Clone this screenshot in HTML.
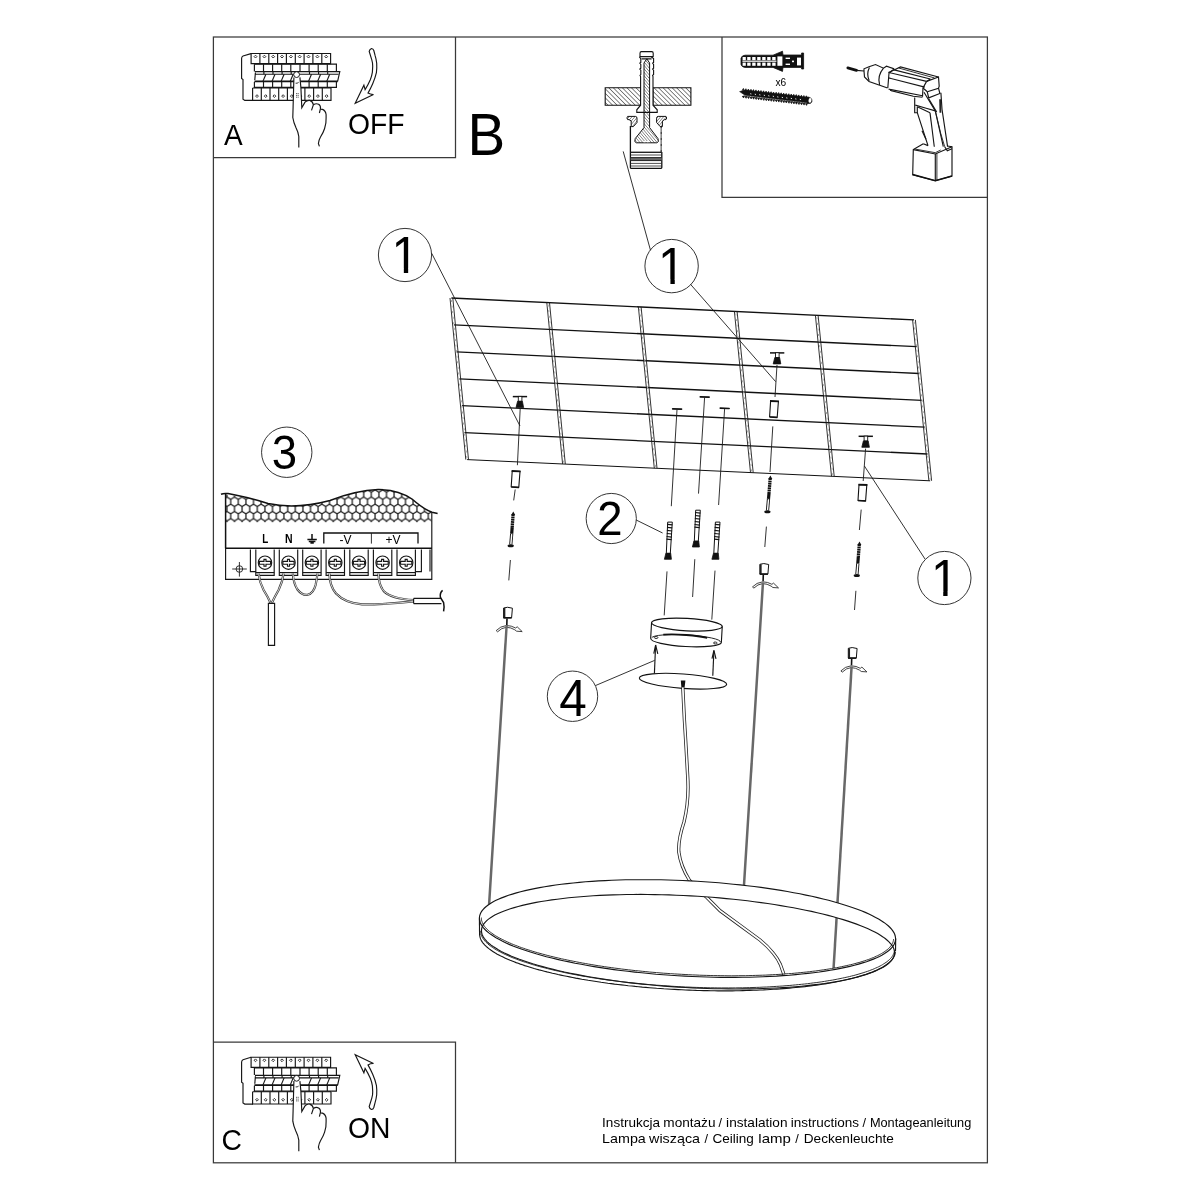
<!DOCTYPE html>
<html lang="pl"><head><meta charset="utf-8"><title>Instrukcja montażu</title>
<style>
html,body{margin:0;padding:0;background:#fff;}
body{width:1200px;height:1200px;overflow:hidden;font-family:"Liberation Sans",sans-serif;}
svg{display:block;position:absolute;left:0;top:0;will-change:transform;filter:grayscale(1);}
svg text{font-family:"Liberation Sans",sans-serif;fill:#000;}
.l{fill:none;stroke:#161616;stroke-width:1.15;}
.t{fill:none;stroke:#1c1c1c;stroke-width:0.9;}
.k{fill:none;stroke:#111;stroke-width:1.5;}
.f{fill:none;stroke:#3a3a3a;stroke-width:1.25;}
</style></head><body>
<svg width="1200" height="1200" viewBox="0 0 1200 1200">
<!-- 01_frame.py -->
<rect class="f" x="213.4" y="37" width="774" height="1125.8"/>
<path class="f" d="M455.5 37V157.7H213.4"/>
<path class="f" d="M722 37V197.4H987.4"/>
<path class="f" d="M213.4 1042H455.5V1162.8"/>
<text transform="translate(224 145.4) scale(1 1.04)" font-size="28">A</text>
<text transform="translate(467.6 154.7) scale(1 1.04)" font-size="56.5">B</text>
<text transform="translate(348 134) scale(1 1.04)" font-size="28.3">OFF</text>
<text transform="translate(221.6 1150.4) scale(1 1.04)" font-size="28.3">C</text>
<text transform="translate(347.9 1137.5) scale(1 1.04)" font-size="28.3">ON</text>
<text transform="translate(775.4 85.9) scale(1 1.04)" font-size="10.2">x6</text>
<text transform="translate(602.1 1127.3) scale(1 1.04)" font-size="12.8" textLength="57.9" lengthAdjust="spacingAndGlyphs">Instrukcja</text>
<text transform="translate(663.3 1127.3) scale(1 1.04)" font-size="12.8" textLength="52.2" lengthAdjust="spacingAndGlyphs">montażu</text>
<text transform="translate(718.6 1127.3) scale(1 1.04)" font-size="12.8">/</text>
<text transform="translate(726.1 1127.3) scale(1 1.04)" font-size="12.8" textLength="61.4" lengthAdjust="spacingAndGlyphs">instalation</text>
<text transform="translate(790.8 1127.3) scale(1 1.04)" font-size="12.8" textLength="68.3" lengthAdjust="spacingAndGlyphs">instructions</text>
<text transform="translate(862.6 1127.3) scale(1 1.04)" font-size="12.8">/</text>
<text transform="translate(869.9 1127.3) scale(1 1.04)" font-size="12.8" textLength="101.4" lengthAdjust="spacingAndGlyphs">Montageanleitung</text>
<text transform="translate(602.1 1143.4) scale(1 1.04)" font-size="12.8" textLength="43.7" lengthAdjust="spacingAndGlyphs">Lampa</text>
<text transform="translate(649.1 1143.4) scale(1 1.04)" font-size="12.8" textLength="50.9" lengthAdjust="spacingAndGlyphs">wisząca</text>
<text transform="translate(704.6 1143.4) scale(1 1.04)" font-size="12.8">/</text>
<text transform="translate(712.4 1143.4) scale(1 1.04)" font-size="12.8" textLength="41.4" lengthAdjust="spacingAndGlyphs">Ceiling</text>
<text transform="translate(758.3 1143.4) scale(1 1.04)" font-size="12.8" textLength="32.5" lengthAdjust="spacingAndGlyphs">lamp</text>
<text transform="translate(795.2 1143.4) scale(1 1.04)" font-size="12.8">/</text>
<text transform="translate(803.8 1143.4) scale(1 1.04)" font-size="12.8" textLength="90" lengthAdjust="spacingAndGlyphs">Deckenleuchte</text>
<!-- 02_circles.py -->
<circle cx="405" cy="255" r="26.6" fill="none" stroke="#2a2a2a" stroke-width="0.95"/>
<text transform="translate(391.51 272.80) scale(1 1.04)" font-size="49">1</text>
<rect x="394.44" y="268.59" width="9.39" height="5.01" fill="#fff"/>
<rect x="408.16" y="268.59" width="9.01" height="5.01" fill="#fff"/>
<circle cx="671.6" cy="266.1" r="26.7" fill="none" stroke="#2a2a2a" stroke-width="0.95"/>
<text transform="translate(658.11 283.80) scale(1 1.04)" font-size="49">1</text>
<rect x="661.04" y="279.59" width="9.39" height="5.01" fill="#fff"/>
<rect x="674.76" y="279.59" width="9.01" height="5.01" fill="#fff"/>
<circle cx="944.4" cy="578" r="26.6" fill="none" stroke="#2a2a2a" stroke-width="0.95"/>
<text transform="translate(930.91 595.80) scale(1 1.04)" font-size="49">1</text>
<rect x="933.84" y="591.59" width="9.39" height="5.01" fill="#fff"/>
<rect x="947.56" y="591.59" width="9.01" height="5.01" fill="#fff"/>
<circle cx="611.25" cy="518.5" r="25.1" fill="none" stroke="#2a2a2a" stroke-width="0.95"/>
<text transform="translate(609.90 535.40) scale(1 1.04)" font-size="45.5" text-anchor="middle">2</text>
<circle cx="286.75" cy="452.25" r="25.2" fill="none" stroke="#2a2a2a" stroke-width="0.95"/>
<text transform="translate(284.40 469.30) scale(1 1.04)" font-size="45.5" text-anchor="middle">3</text>
<circle cx="572.5" cy="696.25" r="25.2" fill="none" stroke="#2a2a2a" stroke-width="0.95"/>
<text transform="translate(573.10 715.50) scale(1 1.04)" font-size="49.5" text-anchor="middle">4</text>
<path class="t" d="M431.7 253.3L520 426"/>
<path class="t" d="M623.2 151.4L650.5 250.3"/>
<path class="t" d="M690.5 284.3L775.7 381.7"/>
<path class="t" d="M864.4 466L925 559"/>
<path class="t" d="M636.2 520L662.6 533"/>
<path class="t" d="M595.4 685.6L654.6 660.4"/>
<!-- 03_grid.py -->
<path d="M451.4 298.0L914.0 319.9" fill="none" stroke="#111" stroke-width="1.35"/>
<path d="M454.0 324.9L916.7 346.7" fill="none" stroke="#111" stroke-width="1.35"/>
<path d="M456.6 351.9L919.4 373.5" fill="none" stroke="#111" stroke-width="1.35"/>
<path d="M459.2 378.8L922.1 400.4" fill="none" stroke="#111" stroke-width="1.35"/>
<path d="M461.9 405.7L924.8 427.2" fill="none" stroke="#111" stroke-width="1.35"/>
<path d="M464.5 432.7L927.5 454.0" fill="none" stroke="#111" stroke-width="1.35"/>
<path d="M467.1 459.6L930.2 480.8" fill="none" stroke="#111" stroke-width="1"/>
<path class="t" d="M450.0 298.0L465.8 459.6"/>
<path class="t" d="M452.8 298.0L468.5 459.6"/>
<path d="M451.4 300.0L467.1 459.6" fill="none" stroke="#a8a8a8" stroke-width="1.1" stroke-dasharray="2 3.6"/>
<path class="t" d="M546.8 302.6L562.6 464.0"/>
<path class="t" d="M549.5 302.6L565.3 464.0"/>
<path d="M548.1 304.6L563.9 464.0" fill="none" stroke="#a8a8a8" stroke-width="1.1" stroke-dasharray="2 3.6"/>
<path class="t" d="M638.4 306.9L654.3 468.2"/>
<path class="t" d="M641.1 306.9L657.0 468.2"/>
<path d="M639.7 308.9L655.6 468.2" fill="none" stroke="#a8a8a8" stroke-width="1.1" stroke-dasharray="2 3.6"/>
<path class="t" d="M734.4 311.5L750.5 472.6"/>
<path class="t" d="M737.1 311.5L753.2 472.6"/>
<path d="M735.8 313.5L751.8 472.6" fill="none" stroke="#a8a8a8" stroke-width="1.1" stroke-dasharray="2 3.6"/>
<path class="t" d="M815.4 315.3L831.5 476.3"/>
<path class="t" d="M818.1 315.3L834.2 476.3"/>
<path d="M816.8 317.3L832.9 476.3" fill="none" stroke="#a8a8a8" stroke-width="1.1" stroke-dasharray="2 3.6"/>
<path class="t" d="M912.6 319.9L928.9 480.8"/>
<path class="t" d="M915.4 319.9L931.6 480.8"/>
<path d="M914.0 321.9L930.2 480.8" fill="none" stroke="#a8a8a8" stroke-width="1.1" stroke-dasharray="2 3.6"/>
<!-- 05_breaker.py -->
<g transform="translate(0 0)">
<path class="l" d="M251 53.6L243 56Q241.6 56.6 241.6 58.5V78.5L243 79.5V99.3L244.8 100.4H253"/>
<path class="l" d="M251.1 53.5H330.6V63.6H251.1Z"/>
<path class="l" d="M259.9 53.5V63.6"/>
<path class="l" d="M268.8 53.5V63.6"/>
<path class="l" d="M277.6 53.5V63.6"/>
<path class="l" d="M286.4 53.5V63.6"/>
<path class="l" d="M295.3 53.5V63.6"/>
<path class="l" d="M304.1 53.5V63.6"/>
<path class="l" d="M312.9 53.5V63.6"/>
<path class="l" d="M321.8 53.5V63.6"/>
<path class="t" d="M255.5 55.2l1.4 1.4l-1.4 1.4l-1.4 -1.4z"/>
<path class="t" d="M264.4 55.2l1.4 1.4l-1.4 1.4l-1.4 -1.4z"/>
<path class="t" d="M273.2 55.2l1.4 1.4l-1.4 1.4l-1.4 -1.4z"/>
<path class="t" d="M282.0 55.2l1.4 1.4l-1.4 1.4l-1.4 -1.4z"/>
<path class="t" d="M290.9 55.2l1.4 1.4l-1.4 1.4l-1.4 -1.4z"/>
<path class="t" d="M299.7 55.2l1.4 1.4l-1.4 1.4l-1.4 -1.4z"/>
<path class="t" d="M308.5 55.2l1.4 1.4l-1.4 1.4l-1.4 -1.4z"/>
<path class="t" d="M317.4 55.2l1.4 1.4l-1.4 1.4l-1.4 -1.4z"/>
<path class="t" d="M326.2 55.2l1.4 1.4l-1.4 1.4l-1.4 -1.4z"/>
<path class="l" d="M254.4 64.2H336.4V71.4"/>
<path class="l" d="M254.4 64.2V71.4"/>
<path class="l" d="M263.5 64.2V71.4"/>
<path class="l" d="M272.6 64.2V71.4"/>
<path class="l" d="M281.7 64.2V71.4"/>
<path class="l" d="M290.8 64.2V71.4"/>
<path class="l" d="M300.0 64.2V71.4"/>
<path class="l" d="M309.1 64.2V71.4"/>
<path class="l" d="M318.2 64.2V71.4"/>
<path class="l" d="M327.3 64.2V71.4"/>
<path class="l" d="M255 71.6H339.8L337.6 81.4"/>
<path class="l" d="M255 74.2H338.6" stroke-width="1.2"/>
<path d="M254.4 81.4H337.8" fill="none" stroke="#111" stroke-width="1.6"/>
<path class="l" d="M255.4 72.5L254.8 80"/>
<path class="l" d="M265.9 74.2L262.9 81.4" stroke-width="1.3"/>
<path class="l" d="M263.9 71.6V74.2"/>
<path class="l" d="M275.0 74.2L272.0 81.4" stroke-width="1.3"/>
<path class="l" d="M273.0 71.6V74.2"/>
<path class="l" d="M284.1 74.2L281.1 81.4" stroke-width="1.3"/>
<path class="l" d="M282.1 71.6V74.2"/>
<path class="l" d="M293.2 74.2L290.2 81.4" stroke-width="1.3"/>
<path class="l" d="M291.2 71.6V74.2"/>
<path class="l" d="M311.5 74.2L308.5 81.4" stroke-width="1.3"/>
<path class="l" d="M309.5 71.6V74.2"/>
<path class="l" d="M320.6 74.2L317.6 81.4" stroke-width="1.3"/>
<path class="l" d="M318.6 71.6V74.2"/>
<path class="l" d="M329.7 74.2L326.7 81.4" stroke-width="1.3"/>
<path class="l" d="M327.7 71.6V74.2"/>
<path class="l" d="M254.4 82V87.4H336.4V82"/>
<path class="l" d="M263.5 82V87.4"/>
<path class="l" d="M272.6 82V87.4"/>
<path class="l" d="M281.7 82V87.4"/>
<path class="l" d="M290.8 82V87.4"/>
<path class="l" d="M300.0 82V87.4"/>
<path class="l" d="M309.1 82V87.4"/>
<path class="l" d="M318.2 82V87.4"/>
<path class="l" d="M327.3 82V87.4"/>
<path class="l" d="M252.6 88V100.3H331V88"/>
<path class="l" d="M252.6 88H331"/>
<path class="l" d="M261.3 88V100.3"/>
<path class="l" d="M270.0 88V100.3"/>
<path class="l" d="M278.7 88V100.3"/>
<path class="l" d="M287.4 88V100.3"/>
<path class="l" d="M296.2 88V100.3"/>
<path class="l" d="M304.9 88V100.3"/>
<path class="l" d="M313.6 88V100.3"/>
<path class="l" d="M322.3 88V100.3"/>
<path class="t" d="M257.0 94.7l1.4 1.4l-1.4 1.4l-1.4 -1.4z"/>
<path class="t" d="M265.7 94.7l1.4 1.4l-1.4 1.4l-1.4 -1.4z"/>
<path class="t" d="M274.4 94.7l1.4 1.4l-1.4 1.4l-1.4 -1.4z"/>
<path class="t" d="M283.1 94.7l1.4 1.4l-1.4 1.4l-1.4 -1.4z"/>
<path class="t" d="M291.8 94.7l1.4 1.4l-1.4 1.4l-1.4 -1.4z"/>
<path class="t" d="M300.5 94.7l1.4 1.4l-1.4 1.4l-1.4 -1.4z"/>
<path class="t" d="M309.2 94.7l1.4 1.4l-1.4 1.4l-1.4 -1.4z"/>
<path class="t" d="M317.9 94.7l1.4 1.4l-1.4 1.4l-1.4 -1.4z"/>
<path class="t" d="M326.6 94.7l1.4 1.4l-1.4 1.4l-1.4 -1.4z"/>
<path d="M293.9 77.4L293.1 107L292.8 117.5Q293.6 122.5 295.8 127.3Q298.2 132 298.8 136.5L298.8 147.5H319.4L318.4 143.5Q319 139.5 320.5 137Q323.4 132.5 324.6 128.5Q326.4 122.8 326.1 118V114.5Q325.5 110.5 322.5 109.4L320.5 109.3Q320.8 105.5 318.6 104.2Q316 103 313.4 104.8Q312.8 101.5 309.8 100.4Q307 100 305 102.2L301.8 107.8L300.9 87.5L299.9 77.4Z" fill="#fff" stroke="none"/>
<path class="l" d="M293.9 77.4L293.1 107L292.8 117.5Q293.6 122.5 295.8 127.3Q298.2 132 298.8 136.5L298.8 147.5"/>
<path class="l" d="M299.9 77.4L300.9 87.5L301.8 107.8L305 102.2Q307 100 309.8 100.4Q312.8 101.5 313.4 104.8L311.5 110.4"/>
<path class="l" d="M313.4 104.8Q316 103 318.6 104.2Q320.8 105.5 320.5 108.5L319.4 113"/>
<path class="l" d="M320.5 109.3L322.5 109.4Q325.5 110.5 326.1 114.5V118Q326.4 122.8 324.6 128.5Q323.4 132.5 320.5 137Q319 139.5 318.4 143.5L319.4 146.4"/>
<circle cx="296.6" cy="74.6" r="2.9" fill="#fff" stroke="#1a1a1a" stroke-width="1"/>
<path class="t" d="M295.6 83.2Q297.2 83.6 298.6 82.4"/>
<path class="t" d="M296.2 93.6h2.4M296.2 95.4h2.4M296.2 97.2h2.4" stroke-dasharray="1 0.6"/>
</g>
<g transform="translate(0 1003.7)">
<path class="l" d="M251 53.6L243 56Q241.6 56.6 241.6 58.5V78.5L243 79.5V99.3L244.8 100.4H253"/>
<path class="l" d="M251.1 53.5H330.6V63.6H251.1Z"/>
<path class="l" d="M259.9 53.5V63.6"/>
<path class="l" d="M268.8 53.5V63.6"/>
<path class="l" d="M277.6 53.5V63.6"/>
<path class="l" d="M286.4 53.5V63.6"/>
<path class="l" d="M295.3 53.5V63.6"/>
<path class="l" d="M304.1 53.5V63.6"/>
<path class="l" d="M312.9 53.5V63.6"/>
<path class="l" d="M321.8 53.5V63.6"/>
<path class="t" d="M255.5 55.2l1.4 1.4l-1.4 1.4l-1.4 -1.4z"/>
<path class="t" d="M264.4 55.2l1.4 1.4l-1.4 1.4l-1.4 -1.4z"/>
<path class="t" d="M273.2 55.2l1.4 1.4l-1.4 1.4l-1.4 -1.4z"/>
<path class="t" d="M282.0 55.2l1.4 1.4l-1.4 1.4l-1.4 -1.4z"/>
<path class="t" d="M290.9 55.2l1.4 1.4l-1.4 1.4l-1.4 -1.4z"/>
<path class="t" d="M299.7 55.2l1.4 1.4l-1.4 1.4l-1.4 -1.4z"/>
<path class="t" d="M308.5 55.2l1.4 1.4l-1.4 1.4l-1.4 -1.4z"/>
<path class="t" d="M317.4 55.2l1.4 1.4l-1.4 1.4l-1.4 -1.4z"/>
<path class="t" d="M326.2 55.2l1.4 1.4l-1.4 1.4l-1.4 -1.4z"/>
<path class="l" d="M254.4 64.2H336.4V71.4"/>
<path class="l" d="M254.4 64.2V71.4"/>
<path class="l" d="M263.5 64.2V71.4"/>
<path class="l" d="M272.6 64.2V71.4"/>
<path class="l" d="M281.7 64.2V71.4"/>
<path class="l" d="M290.8 64.2V71.4"/>
<path class="l" d="M300.0 64.2V71.4"/>
<path class="l" d="M309.1 64.2V71.4"/>
<path class="l" d="M318.2 64.2V71.4"/>
<path class="l" d="M327.3 64.2V71.4"/>
<path class="l" d="M255 71.6H339.8L337.6 81.4"/>
<path class="l" d="M255 74.2H338.6" stroke-width="1.2"/>
<path d="M254.4 81.4H337.8" fill="none" stroke="#111" stroke-width="1.6"/>
<path class="l" d="M255.4 72.5L254.8 80"/>
<path class="l" d="M265.9 74.2L262.9 81.4" stroke-width="1.3"/>
<path class="l" d="M263.9 71.6V74.2"/>
<path class="l" d="M275.0 74.2L272.0 81.4" stroke-width="1.3"/>
<path class="l" d="M273.0 71.6V74.2"/>
<path class="l" d="M284.1 74.2L281.1 81.4" stroke-width="1.3"/>
<path class="l" d="M282.1 71.6V74.2"/>
<path class="l" d="M293.2 74.2L290.2 81.4" stroke-width="1.3"/>
<path class="l" d="M291.2 71.6V74.2"/>
<path class="l" d="M311.5 74.2L308.5 81.4" stroke-width="1.3"/>
<path class="l" d="M309.5 71.6V74.2"/>
<path class="l" d="M320.6 74.2L317.6 81.4" stroke-width="1.3"/>
<path class="l" d="M318.6 71.6V74.2"/>
<path class="l" d="M329.7 74.2L326.7 81.4" stroke-width="1.3"/>
<path class="l" d="M327.7 71.6V74.2"/>
<path class="l" d="M254.4 82V87.4H336.4V82"/>
<path class="l" d="M263.5 82V87.4"/>
<path class="l" d="M272.6 82V87.4"/>
<path class="l" d="M281.7 82V87.4"/>
<path class="l" d="M290.8 82V87.4"/>
<path class="l" d="M300.0 82V87.4"/>
<path class="l" d="M309.1 82V87.4"/>
<path class="l" d="M318.2 82V87.4"/>
<path class="l" d="M327.3 82V87.4"/>
<path class="l" d="M252.6 88V100.3H331V88"/>
<path class="l" d="M252.6 88H331"/>
<path class="l" d="M261.3 88V100.3"/>
<path class="l" d="M270.0 88V100.3"/>
<path class="l" d="M278.7 88V100.3"/>
<path class="l" d="M287.4 88V100.3"/>
<path class="l" d="M296.2 88V100.3"/>
<path class="l" d="M304.9 88V100.3"/>
<path class="l" d="M313.6 88V100.3"/>
<path class="l" d="M322.3 88V100.3"/>
<path class="t" d="M257.0 94.7l1.4 1.4l-1.4 1.4l-1.4 -1.4z"/>
<path class="t" d="M265.7 94.7l1.4 1.4l-1.4 1.4l-1.4 -1.4z"/>
<path class="t" d="M274.4 94.7l1.4 1.4l-1.4 1.4l-1.4 -1.4z"/>
<path class="t" d="M283.1 94.7l1.4 1.4l-1.4 1.4l-1.4 -1.4z"/>
<path class="t" d="M291.8 94.7l1.4 1.4l-1.4 1.4l-1.4 -1.4z"/>
<path class="t" d="M300.5 94.7l1.4 1.4l-1.4 1.4l-1.4 -1.4z"/>
<path class="t" d="M309.2 94.7l1.4 1.4l-1.4 1.4l-1.4 -1.4z"/>
<path class="t" d="M317.9 94.7l1.4 1.4l-1.4 1.4l-1.4 -1.4z"/>
<path class="t" d="M326.6 94.7l1.4 1.4l-1.4 1.4l-1.4 -1.4z"/>
<path d="M293.9 77.4L293.1 107L292.8 117.5Q293.6 122.5 295.8 127.3Q298.2 132 298.8 136.5L298.8 147.5H319.4L318.4 143.5Q319 139.5 320.5 137Q323.4 132.5 324.6 128.5Q326.4 122.8 326.1 118V114.5Q325.5 110.5 322.5 109.4L320.5 109.3Q320.8 105.5 318.6 104.2Q316 103 313.4 104.8Q312.8 101.5 309.8 100.4Q307 100 305 102.2L301.8 107.8L300.9 87.5L299.9 77.4Z" fill="#fff" stroke="none"/>
<path class="l" d="M293.9 77.4L293.1 107L292.8 117.5Q293.6 122.5 295.8 127.3Q298.2 132 298.8 136.5L298.8 147.5"/>
<path class="l" d="M299.9 77.4L300.9 87.5L301.8 107.8L305 102.2Q307 100 309.8 100.4Q312.8 101.5 313.4 104.8L311.5 110.4"/>
<path class="l" d="M313.4 104.8Q316 103 318.6 104.2Q320.8 105.5 320.5 108.5L319.4 113"/>
<path class="l" d="M320.5 109.3L322.5 109.4Q325.5 110.5 326.1 114.5V118Q326.4 122.8 324.6 128.5Q323.4 132.5 320.5 137Q319 139.5 318.4 143.5L319.4 146.4"/>
<circle cx="296.6" cy="74.6" r="2.9" fill="#fff" stroke="#1a1a1a" stroke-width="1"/>
<path class="t" d="M295.6 83.2Q297.2 83.6 298.6 82.4"/>
<path class="t" d="M296.2 93.6h2.4M296.2 95.4h2.4M296.2 97.2h2.4" stroke-dasharray="1 0.6"/>
</g>
<path class="l" d="M371.5 48.5Q369.6 49.2 369.2 51.4L371.8 59.8Q372.8 63 372.7 66.2L372.4 72.1Q371.8 76 370.3 79.7Q368 85 365.1 89.6L363.9 85.2L355.2 103.3L373.5 94.5Q370.5 94.6 368 93.1Q370.6 88.5 372.7 83.7Q375.2 78 376.4 72.7Q377 68 376.7 63.3Q376.2 59 375 55.2L373.8 50.5Q373.2 48.6 371.5 48.5Z"/>
<g transform="translate(0 1158) scale(1 -1)"><path class="l" d="M371.5 48.5Q369.6 49.2 369.2 51.4L371.8 59.8Q372.8 63 372.7 66.2L372.4 72.1Q371.8 76 370.3 79.7Q368 85 365.1 89.6L363.9 85.2L355.2 103.3L373.5 94.5Q370.5 94.6 368 93.1Q370.6 88.5 372.7 83.7Q375.2 78 376.4 72.7Q377 68 376.7 63.3Q376.2 59 375 55.2L373.8 50.5Q373.2 48.6 371.5 48.5Z"/></g>
<!-- 06_anchor.py -->
<defs><pattern id="h1" width="3.2" height="3.2" patternUnits="userSpaceOnUse" patternTransform="rotate(-45)"><line x1="0" y1="0" x2="0" y2="3.2" stroke="#111" stroke-width="1"/></pattern>
<pattern id="h2" width="2.2" height="2.2" patternUnits="userSpaceOnUse" patternTransform="rotate(-40)"><line x1="0" y1="0" x2="0" y2="2.2" stroke="#111" stroke-width="0.8"/></pattern><pattern id="h3" width="2.2" height="2.2" patternUnits="userSpaceOnUse" patternTransform="rotate(40)"><line x1="0" y1="0" x2="0" y2="2.2" stroke="#111" stroke-width="0.8"/></pattern></defs>
<path d="M605.2 87.7H640.6V105.2H605.2Z" fill="url(#h1)" stroke="#111" stroke-width="1.1"/>
<path d="M653 87.7H690.9V105.2H653Z" fill="url(#h1)" stroke="#111" stroke-width="1.1"/>
<path d="M640 53.2Q640 51.6 641.4 51.6H651.8Q653.2 51.6 653.2 53.2V56.4L651.8 57.2L653.6 58.6V62.4L652.6 63.2L653.6 64.4V68.2L652.6 69L653.6 70.2V74.5L652.6 75.4L653 76.6V105.2L657.2 109.8V112.4H636.8V109.8L640.6 105.2V76.6L640 75.4L640.8 74.5V70.2L639.8 69L640.8 68.2V64.4L639.8 63.2L640.8 62.4V58.6L639.6 57.2L640 56.4Z" fill="#fff" stroke="#111" stroke-width="1.1"/>
<path class="l" d="M640 56.6H653M641.6 58.8H651.6"/>
<path d="M646.8 58.8L644 63V127.6L635.2 138.6L634.8 141.6L636.4 142.8H656.8L658.4 141.6L658 138.6L649.6 127.6V63Z" fill="url(#h2)" stroke="#111" stroke-width="1"/>
<path d="M643.6 141.6h2.2M647 141.6h2.2" stroke="#fff" stroke-width="1.4"/>
<path d="M627.6 116.4H635.4Q637 116.4 637 118.2V122.5L633.4 126.6H631.2V121L629 119.6H627.6Q626.2 118 627.6 116.4Z" fill="url(#h3)" stroke="#111" stroke-width="1"/>
<path d="M666 116.4H658.2Q656.6 116.4 656.6 118.2V122.5L660.2 126.6H662.4V121L664.6 119.6H666Q667.4 118 666 116.4Z" fill="url(#h3)" stroke="#111" stroke-width="1"/>
<path d="M630.4 126V167.4Q630.4 168.4 631.6 168.4H660.6Q661.8 168.4 661.8 167.4V152" fill="none" stroke="#111" stroke-width="1.3"/>
<path d="M661.2 126V152" fill="none" stroke="#111" stroke-width="1.6" stroke-dasharray="0.7 0.5"/>
<rect x="630.6" y="157.6" width="31" height="3" fill="#666"/>
<path d="M630.6 152.3H661.6" fill="none" stroke="#222" stroke-width="1.4"/>
<path d="M630.6 155H661.6" fill="none" stroke="#222" stroke-width="0.8"/>
<path d="M630.6 157.6H661.6" fill="none" stroke="#222" stroke-width="1"/>
<path d="M630.6 160.6H661.6" fill="none" stroke="#222" stroke-width="1"/>
<path d="M630.6 163.4H661.6" fill="none" stroke="#222" stroke-width="0.8"/>
<path d="M630.6 166H661.6" fill="none" stroke="#222" stroke-width="0.8"/>
<!-- 07_tools.py -->
<path d="M741 58.2Q741.6 55.6 745 55.2H773L782.5 51.2L783 55H801.6V53H803.6V69H801.6V67.4H783L782.5 71.4L773 67.4H745Q741.6 67 741 64.4Z" fill="#111" stroke="#111" stroke-width="0.8"/>
<rect x="742.6" y="57" width="3.2" height="3.2" fill="#fff"/>
<rect x="742.6" y="62.6" width="3.2" height="3.2" fill="#fff"/>
<rect x="747.2" y="57" width="3.4" height="3.2" fill="#fff"/>
<rect x="747.2" y="62.6" width="3.4" height="3.2" fill="#fff"/>
<rect x="752.2" y="57" width="3.4" height="3.2" fill="#fff"/>
<rect x="752.2" y="62.6" width="3.4" height="3.2" fill="#fff"/>
<rect x="757.2" y="57" width="3.4" height="3.2" fill="#fff"/>
<rect x="757.2" y="62.6" width="3.4" height="3.2" fill="#fff"/>
<rect x="762.2" y="57" width="3.4" height="3.2" fill="#fff"/>
<rect x="762.2" y="62.6" width="3.4" height="3.2" fill="#fff"/>
<rect x="767.2" y="57" width="3.4" height="3.2" fill="#fff"/>
<rect x="767.2" y="62.6" width="3.4" height="3.2" fill="#fff"/>
<rect x="772.2" y="57" width="3.4" height="3.2" fill="#fff"/>
<rect x="772.2" y="62.6" width="3.4" height="3.2" fill="#fff"/>
<rect x="742.4" y="60.6" width="34" height="1.2" fill="#fff"/>
<rect x="777.4" y="56.4" width="5" height="9.4" fill="#fff"/>
<rect x="797" y="57.6" width="4" height="7.8" fill="#fff"/>
<rect x="785.6" y="57.6" width="4.4" height="1.4" fill="#fff"/>
<rect x="785.6" y="63.6" width="4.4" height="1.4" fill="#fff"/>
<rect x="792" y="60.6" width="2" height="1.6" fill="#fff"/>
<path d="M739.6 91.6L745 90.2L806 97.2L808.4 97Q812.4 98 812 101.4Q811.4 104 808 103.6L806 102.6L745 95.2Z" fill="#111" stroke="#111" stroke-width="0.6"/>
<ellipse cx="810" cy="100.4" rx="1.5" ry="2.4" fill="#fff" transform="rotate(8 810 100.4)"/>
<path d="M742.0 90.6l1.4 -2.2l1 2.4M744.6 95.6l-1 2.4l-1.4 -2M744.5 90.9l1.4 -2.2l1 2.4M747.1 95.9l-1 2.4l-1.4 -2M747.0 91.2l1.4 -2.2l1 2.4M749.6 96.2l-1 2.4l-1.4 -2M749.6 91.5l1.4 -2.2l1 2.4M752.2 96.5l-1 2.4l-1.4 -2M752.1 91.8l1.4 -2.2l1 2.4M754.7 96.8l-1 2.4l-1.4 -2M754.6 92.1l1.4 -2.2l1 2.4M757.2 97.1l-1 2.4l-1.4 -2M757.1 92.4l1.4 -2.2l1 2.4M759.7 97.4l-1 2.4l-1.4 -2M759.6 92.7l1.4 -2.2l1 2.4M762.2 97.7l-1 2.4l-1.4 -2M762.2 93.0l1.4 -2.2l1 2.4M764.8 98.0l-1 2.4l-1.4 -2M764.7 93.3l1.4 -2.2l1 2.4M767.3 98.3l-1 2.4l-1.4 -2M767.2 93.6l1.4 -2.2l1 2.4M769.8 98.6l-1 2.4l-1.4 -2M769.7 93.9l1.4 -2.2l1 2.4M772.3 98.9l-1 2.4l-1.4 -2M772.2 94.2l1.4 -2.2l1 2.4M774.8 99.2l-1 2.4l-1.4 -2M774.8 94.4l1.4 -2.2l1 2.4M777.4 99.4l-1 2.4l-1.4 -2M777.3 94.7l1.4 -2.2l1 2.4M779.9 99.7l-1 2.4l-1.4 -2M779.8 95.0l1.4 -2.2l1 2.4M782.4 100.0l-1 2.4l-1.4 -2M782.3 95.3l1.4 -2.2l1 2.4M784.9 100.3l-1 2.4l-1.4 -2M784.8 95.6l1.4 -2.2l1 2.4M787.4 100.6l-1 2.4l-1.4 -2M787.4 95.9l1.4 -2.2l1 2.4M790.0 100.9l-1 2.4l-1.4 -2M789.9 96.2l1.4 -2.2l1 2.4M792.5 101.2l-1 2.4l-1.4 -2M792.4 96.5l1.4 -2.2l1 2.4M795.0 101.5l-1 2.4l-1.4 -2M794.9 96.8l1.4 -2.2l1 2.4M797.5 101.8l-1 2.4l-1.4 -2M797.4 97.1l1.4 -2.2l1 2.4M800.0 102.1l-1 2.4l-1.4 -2M800.0 97.4l1.4 -2.2l1 2.4M802.6 102.4l-1 2.4l-1.4 -2M802.5 97.7l1.4 -2.2l1 2.4M805.1 102.7l-1 2.4l-1.4 -2M805.0 98.0l1.4 -2.2l1 2.4M807.6 103.0l-1 2.4l-1.4 -2" fill="#111" stroke="#111" stroke-width="0.7"/>
<path d="M750.2 93.7l1.2 0.3M754.8 94.2l1.2 0.3M759.2 94.7l1.2 0.3M763.8 95.2l1.2 0.3M768.2 95.7l1.2 0.3M772.8 96.2l1.2 0.3M777.2 96.8l1.2 0.3M781.8 97.3l1.2 0.3M786.2 97.8l1.2 0.3M790.8 98.3l1.2 0.3M795.2 98.8l1.2 0.3M799.8 99.3l1.2 0.3" stroke="#fff" stroke-width="0.9" fill="none"/>
<!-- 08_drill.py -->
<path d="M847.8 67.9L856.5 70.4" stroke="#111" stroke-width="2.7" stroke-linecap="round" fill="none"/>
<path class="l" d="M856.5 70.4L864.0 71.0"/>
<path class="l" d="M864.0 71.0L864.0 68.8L869.0 66.8L875.5 64.5L883.5 68.2L886.5 66.2L894.2 68.9"/>
<path class="l" d="M864.0 71.0L864.5 77.0L869.0 81.5L879.0 85.0L887.5 88.0"/>
<path class="l" d="M869.4 67.6Q866.2 74.0 869.2 80.8"/>
<path class="l" d="M883.5 68.2Q877.0 76.0 879.6 84.8"/>
<path class="l" d="M894.2 68.9L889.0 73.0L887.8 88.0"/>
<path class="l" d="M888.6 72.4L894.1 69.9L900.5 66.9L938.5 77.0"/>
<path class="l" d="M888.6 72.4L926.6 81.4"/>
<path class="l" d="M894.1 69.9L930.3 79.0"/>
<path class="t" d="M898.7 68.0L934.4 77.9"/>
<path class="l" d="M888.6 77.9L924.8 87.1"/>
<path class="l" d="M888.6 89.1L922.5 95.8"/>
<path class="l" d="M890.0 90.3L913.3 96.2L922.5 97.3"/>
<path class="l" d="M926.6 81.4L938.5 77.0L939.2 86.2L938.5 88.2L927.3 91.8"/>
<path class="l" d="M926.6 81.4L923.0 88.0L922.5 96.7"/>
<path class="l" d="M923.0 88.0L927.3 91.8"/>
<path class="l" d="M927.3 91.8L928.7 97.9L939.9 93.5L938.5 88.2"/>
<path class="l" d="M926.6 81.4L930.3 79.0"/>
<path class="l" d="M914.7 97.6L914.7 112.7L917.3 112.7"/>
<path class="l" d="M915.3 105.1L925.3 108.0L935.3 110.9"/>
<path class="l" d="M917.3 106.7L917.3 112.7L928.0 145.6"/>
<path class="l" d="M917.3 106.7L930.0 112.7"/>
<path class="l" d="M922.0 130.7L926.0 139.3"/>
<path class="l" d="M930.0 112.7L934.3 146.7"/>
<path class="l" d="M924.0 92.3L935.3 110.9L943.3 146.7"/>
<path class="l" d="M928.7 98.7L936.7 112.0"/>
<path class="l" d="M940.9 92.7L942.0 109.3L947.6 146.7"/>
<path class="t" d="M935.3 110.9L940.7 133.3L944.7 146.7"/>
<path d="M940.1 99.3L940.4 112.7" stroke="#222" stroke-width="1.8" fill="none"/>
<path class="l" d="M923.3 143.7L913.3 149.6L912.7 174.7L935.3 180.7L952.0 176.0L952.0 146.7L947.3 146.0"/>
<path class="l" d="M913.3 149.6L935.3 154.0L952.0 146.7"/>
<path class="l" d="M935.3 154.0L935.3 180.7"/>
<path class="t" d="M936.9 153.3L936.9 180.0"/>
<path class="t" d="M915.3 149.1L935.3 152.7L940.7 150.0"/>
<path class="l" d="M923.3 143.7L928.0 145.6"/>
<path class="l" d="M944.7 146.7L947.3 150.7L952.0 148.7"/>
<path d="M912.7 174.4L935.3 180.7L952.0 176.0" stroke="#111" stroke-width="1.6" fill="none"/>
<!-- 09_psu.py -->
<defs><pattern id="hx" width="7.6" height="14.4" patternUnits="userSpaceOnUse" x="226.9" y="494.6"><path d="M3.80 -4.80L7.60 -2.40L7.60 2.40L3.80 4.80L0.00 2.40L0.00 -2.40ZM0.00 2.40L3.80 4.80L3.80 9.60L0.00 12.00L-3.80 9.60L-3.80 4.80ZM7.60 2.40L11.40 4.80L11.40 9.60L7.60 12.00L3.80 9.60L3.80 4.80ZM3.80 9.60L7.60 12.00L7.60 16.80L3.80 19.20L0.00 16.80L0.00 12.00Z" fill="none" stroke="#111" stroke-width="1.2" stroke-linejoin="round"/></pattern><clipPath id="hxc"><path d="M226 494.6Q247 497 268 503.5Q296 509.6 330 500.5Q356 490.5 378 489.6Q398 489.4 412 499Q424 509.5 431.4 512.2V522.4H226Z"/></clipPath></defs>
<rect x="226" y="486" width="206" height="36.4" fill="url(#hx)" clip-path="url(#hxc)"/>
<path d="M221 494.2Q224 493 228 493.6Q247 497 268 503.5Q296 509.6 330 500.5Q356 490.5 378 489.6Q398 489.4 412 499Q424 509.5 432 512.2L437.6 513.4" fill="none" stroke="#111" stroke-width="1.5"/>
<path d="M225.6 494V548.3" fill="none" stroke="#111" stroke-width="1.5"/>
<path d="M225 548.3H432" fill="none" stroke="#111" stroke-width="1.6"/>
<path class="l" d="M431.8 512.4V579.3H225.6V548.3"/>
<text x="265.3" y="543.4" font-size="12" font-weight="bold" text-anchor="middle" textLength="6" lengthAdjust="spacingAndGlyphs">L</text>
<text x="288.9" y="543.4" font-size="12" font-weight="bold" text-anchor="middle" textLength="7.6" lengthAdjust="spacingAndGlyphs">N</text>
<text x="345.5" y="543.6" font-size="12" text-anchor="middle">-V</text>
<text x="393" y="543.6" font-size="12" text-anchor="middle">+V</text>
<path d="M312 534V539.4M307.4 539.6H316.8M308.8 541.4H315.4M310.4 543H313.8" fill="none" stroke="#111" stroke-width="1.5"/>
<path d="M323.8 543.4V533H418V543.6" fill="none" stroke="#111" stroke-width="1.3"/>
<path class="t" d="M371.4 533V543.6"/>
<circle class="t" cx="239.4" cy="569" r="3.3"/>
<path class="t" d="M232.2 569H246.8M239.4 562V576.6"/>
<path class="l" d="M255.8 549.4V575.4H274.2V549.4"/>
<path class="l" d="M255.8 572.6H274.2"/>
<circle class="l" cx="265.0" cy="562.7" r="6.7"/>
<path class="l" d="M259.4 561.4H264.0V559.4H266.0V561.4H270.6V564.2H266.0V566.2H264.0V564.2H259.4Z"/>
<path class="l" d="M279.3 549.4V575.4H297.7V549.4"/>
<path class="l" d="M279.3 572.6H297.7"/>
<circle class="l" cx="288.5" cy="562.7" r="6.7"/>
<path class="l" d="M282.9 561.4H287.5V559.4H289.5V561.4H294.1V564.2H289.5V566.2H287.5V564.2H282.9Z"/>
<path class="l" d="M302.7 549.4V575.4H321.1V549.4"/>
<path class="l" d="M302.7 572.6H321.1"/>
<circle class="l" cx="311.9" cy="562.7" r="6.7"/>
<path class="l" d="M306.3 561.4H310.9V559.4H312.9V561.4H317.5V564.2H312.9V566.2H310.9V564.2H306.3Z"/>
<path class="l" d="M326.1 549.4V575.4H344.5V549.4"/>
<path class="l" d="M326.1 572.6H344.5"/>
<circle class="l" cx="335.3" cy="562.7" r="6.7"/>
<path class="l" d="M329.7 561.4H334.3V559.4H336.3V561.4H340.9V564.2H336.3V566.2H334.3V564.2H329.7Z"/>
<path class="l" d="M349.8 549.4V575.4H368.2V549.4"/>
<path class="l" d="M349.8 572.6H368.2"/>
<circle class="l" cx="359.0" cy="562.7" r="6.7"/>
<path class="l" d="M353.4 561.4H358.0V559.4H360.0V561.4H364.6V564.2H360.0V566.2H358.0V564.2H353.4Z"/>
<path class="l" d="M373.4 549.4V575.4H391.8V549.4"/>
<path class="l" d="M373.4 572.6H391.8"/>
<circle class="l" cx="382.6" cy="562.7" r="6.7"/>
<path class="l" d="M377.0 561.4H381.6V559.4H383.6V561.4H388.2V564.2H383.6V566.2H381.6V564.2H377.0Z"/>
<path class="l" d="M397.0 549.4V575.4H415.4V549.4"/>
<path class="l" d="M397.0 572.6H415.4"/>
<circle class="l" cx="406.2" cy="562.7" r="6.7"/>
<path class="l" d="M400.6 561.4H405.2V559.4H407.2V561.4H411.8V564.2H407.2V566.2H405.2V564.2H400.6Z"/>
<path class="l" d="M250.4 549.4V571.6H256"/>
<path class="l" d="M415.6 571.6H421.4V549.4"/>
<path class="l" d="M430 549.4V571.6" />
<path d="M258.6 573.5Q259.4 582 263.6 590Q268 597 270.6 603" fill="none" stroke="#333" stroke-width="2.2"/>
<path d="M258.6 573.5Q259.4 582 263.6 590Q268 597 270.6 603" fill="none" stroke="#fff" stroke-width="0.8"/>
<path d="M283.6 573.5Q282.6 582 278.6 590Q274.6 597 271.8 603" fill="none" stroke="#333" stroke-width="2.2"/>
<path d="M283.6 573.5Q282.6 582 278.6 590Q274.6 597 271.8 603" fill="none" stroke="#fff" stroke-width="0.8"/>
<path d="M292.8 573.5Q293.4 583 297.4 589.5Q302 595.5 307.6 594.8Q313.4 593.5 315.6 585Q317 579 317.4 573.5" fill="none" stroke="#333" stroke-width="2.2"/>
<path d="M292.8 573.5Q293.4 583 297.4 589.5Q302 595.5 307.6 594.8Q313.4 593.5 315.6 585Q317 579 317.4 573.5" fill="none" stroke="#fff" stroke-width="0.8"/>
<path d="M329.4 573.5Q329.6 586 336 593.5Q345 603 362 604.4Q385 604.6 414 601.4" fill="none" stroke="#333" stroke-width="2.2"/>
<path d="M329.4 573.5Q329.6 586 336 593.5Q345 603 362 604.4Q385 604.6 414 601.4" fill="none" stroke="#fff" stroke-width="0.8"/>
<path d="M378.4 573.5Q378.6 585 384 591.5Q391 598.5 414 600.2" fill="none" stroke="#333" stroke-width="2.2"/>
<path d="M378.4 573.5Q378.6 585 384 591.5Q391 598.5 414 600.2" fill="none" stroke="#fff" stroke-width="0.8"/>
<path class="l" d="M268.4 603.4H274.6V645.4H268.4Z" fill="#fff"/>
<path class="l" d="M413.6 598.4H441.4M413.6 603.6H441.4M413.6 598.4V603.6" />
<path d="M442.6 590.4Q439.6 593 440.4 597.4L443.6 602.6Q444.6 607 443.6 611.4" fill="none" stroke="#111" stroke-width="1.5"/>
<!-- 10_hardware.py -->
<path d="M512.8 396.6H527.1" stroke="#111" stroke-width="1.5" fill="none"/>
<rect x="518.3" y="396.4" width="3.6" height="5" fill="#fff" stroke="#111" stroke-width="0.9"/>
<path d="M517.6 401.2H522.4L523.6 407.6H516.0Z" fill="#111" stroke="#111" stroke-width="0.8"/>
<path d="M770.0 352.9H784.3" stroke="#111" stroke-width="1.5" fill="none"/>
<rect x="775.5" y="352.7" width="3.6" height="5" fill="#fff" stroke="#111" stroke-width="0.9"/>
<path d="M774.8 357.5H779.6L780.8 363.9H773.2Z" fill="#111" stroke="#111" stroke-width="0.8"/>
<path d="M858.6 436.3H872.9" stroke="#111" stroke-width="1.5" fill="none"/>
<rect x="864.1" y="436.1" width="3.6" height="5" fill="#fff" stroke="#111" stroke-width="0.9"/>
<path d="M863.4 440.9H868.2L869.4 447.3H861.8Z" fill="#111" stroke="#111" stroke-width="0.8"/>
<path class="t" d="M520.2 408.6L517.4 465.2"/>
<path class="t" d="M777 365L775 397"/>
<path class="t" d="M865.6 448.6L863.2 481"/>
<path d="M512.2 471.2L520.0 471.5L518.8 487.2L511.2 486.8Z" fill="#fff" stroke="#111" stroke-width="1.1"/>
<path d="M511.6 471.0L520.6 471.3" stroke="#111" stroke-width="1.8" fill="none"/>
<path d="M511.2 487.0L519.0 487.4" stroke="#111" stroke-width="1.5" fill="none"/>
<path d="M770.6 401.2L778.4 401.5L777.2 417.2L769.6 416.8Z" fill="#fff" stroke="#111" stroke-width="1.1"/>
<path d="M770.0 401.0L779.0 401.3" stroke="#111" stroke-width="1.8" fill="none"/>
<path d="M769.6 417.0L777.4 417.4" stroke="#111" stroke-width="1.5" fill="none"/>
<path d="M859.0 484.8L866.8 485.1L865.6 500.8L858.0 500.4Z" fill="#fff" stroke="#111" stroke-width="1.1"/>
<path d="M858.4 484.6L867.4 484.9" stroke="#111" stroke-width="1.8" fill="none"/>
<path d="M858.0 500.6L865.8 501.0" stroke="#111" stroke-width="1.5" fill="none"/>
<path class="t" d="M515.2 489.5L513.7 500.4"/>
<path class="t" d="M772.8 426.4L770 472"/>
<path class="t" d="M861.2 509.6L859.4 530"/>
<path d="M513.1 514.4L512.2 527.1" stroke="#111" stroke-width="3.3" fill="none" stroke-dasharray="1.7 0.55"/>
<path d="M513.3 511.4L511.2 515.0L515.2 515.0Z" fill="#111"/>
<path d="M512.2 527.1L511.7 533.7" stroke="#111" stroke-width="3.2" fill="none"/>
<path d="M511.7 533.7L510.8 544.7" stroke="#111" stroke-width="3.2" fill="none"/>
<path d="M511.7 534.1L510.8 544.7" stroke="#fff" stroke-width="1.4" fill="none"/>
<ellipse cx="510.7" cy="545.8" rx="3.1" ry="1.5" fill="#111"/>
<path d="M770.2 478.5L769.1 492.0" stroke="#111" stroke-width="3.3" fill="none" stroke-dasharray="1.7 0.55"/>
<path d="M770.4 475.4L768.3 479.1L772.3 479.1Z" fill="#111"/>
<path d="M769.1 492.0L768.5 498.9" stroke="#111" stroke-width="3.2" fill="none"/>
<path d="M768.5 498.9L767.5 510.6" stroke="#111" stroke-width="3.2" fill="none"/>
<path d="M768.5 499.3L767.5 510.6" stroke="#fff" stroke-width="1.4" fill="none"/>
<ellipse cx="767.4" cy="511.8" rx="3.1" ry="1.5" fill="#111"/>
<path d="M859.3 544.4L858.3 557.0" stroke="#111" stroke-width="3.3" fill="none" stroke-dasharray="1.7 0.55"/>
<path d="M859.5 541.4L857.4 545.0L861.4 545.0Z" fill="#111"/>
<path d="M858.3 557.0L857.8 563.5" stroke="#111" stroke-width="3.2" fill="none"/>
<path d="M857.8 563.5L856.9 574.5" stroke="#111" stroke-width="3.2" fill="none"/>
<path d="M857.8 563.9L856.9 574.5" stroke="#fff" stroke-width="1.4" fill="none"/>
<ellipse cx="856.8" cy="575.6" rx="3.1" ry="1.5" fill="#111"/>
<path class="t" d="M510.4 560L508.8 580.4"/>
<path class="t" d="M766.4 526.6L764.8 547"/>
<path class="t" d="M855.9 590.8L854.5 610"/>
<g transform="translate(0.0 0.0)"><path d="M503.6 608Q507 606.4 512.4 608.2L511.6 617.8H503.6Z" fill="#fff" stroke="#111" stroke-width="1"/><path d="M504.4 608V617.6" stroke="#222" stroke-width="1.9" fill="none"/><path d="M503.4 617.8H511.6" stroke="#111" stroke-width="1.6" fill="none"/><path d="M507 618.4L506.8 625" stroke="#111" stroke-width="1.6" fill="none"/><path d="M496.2 630.6Q500.2 626.2 506.4 625.5Q511.6 625.6 515.6 628L517.2 626.8L522.2 631.6L516.6 631.2L514.8 629.8Q511 627.4 506.4 627.3Q501.4 627.8 497.6 631.8Z" fill="#fff" stroke="#222" stroke-width="0.85"/></g>
<g transform="translate(256.3 -43.7)"><path d="M503.6 608Q507 606.4 512.4 608.2L511.6 617.8H503.6Z" fill="#fff" stroke="#111" stroke-width="1"/><path d="M504.4 608V617.6" stroke="#222" stroke-width="1.9" fill="none"/><path d="M503.4 617.8H511.6" stroke="#111" stroke-width="1.6" fill="none"/><path d="M507 618.4L506.8 625" stroke="#111" stroke-width="1.6" fill="none"/><path d="M496.2 630.6Q500.2 626.2 506.4 625.5Q511.6 625.6 515.6 628L517.2 626.8L522.2 631.6L516.6 631.2L514.8 629.8Q511 627.4 506.4 627.3Q501.4 627.8 497.6 631.8Z" fill="#fff" stroke="#222" stroke-width="0.85"/></g>
<g transform="translate(344.7 40.3)"><path d="M503.6 608Q507 606.4 512.4 608.2L511.6 617.8H503.6Z" fill="#fff" stroke="#111" stroke-width="1"/><path d="M504.4 608V617.6" stroke="#222" stroke-width="1.9" fill="none"/><path d="M503.4 617.8H511.6" stroke="#111" stroke-width="1.6" fill="none"/><path d="M507 618.4L506.8 625" stroke="#111" stroke-width="1.6" fill="none"/><path d="M496.2 630.6Q500.2 626.2 506.4 625.5Q511.6 625.6 515.6 628L517.2 626.8L522.2 631.6L516.6 631.2L514.8 629.8Q511 627.4 506.4 627.3Q501.4 627.8 497.6 631.8Z" fill="#fff" stroke="#222" stroke-width="0.85"/></g>
<path d="M506.6 626L489 906" stroke="#686868" stroke-width="2.5" fill="none"/>
<path d="M763 582.4L744 885" stroke="#686868" stroke-width="2.5" fill="none"/>
<path d="M851.6 666.4L833.6 968" stroke="#686868" stroke-width="2.5" fill="none"/>
<!-- 11_canopy.py -->
<path d="M672.7 408.8L681.5 409.2" stroke="#111" stroke-width="1.7" fill="none" stroke-linecap="round"/>
<path d="M700.3 396.8L709.1 397.2" stroke="#111" stroke-width="1.7" fill="none" stroke-linecap="round"/>
<path d="M720.3 408.1L729.1 408.5" stroke="#111" stroke-width="1.7" fill="none" stroke-linecap="round"/>
<path class="t" d="M677 409.4L671.3 506.2"/>
<path class="t" d="M704.6 397.4L698.5 493.6"/>
<path class="t" d="M724.6 408.8L718.6 505"/>
<path d="M667.7 522.1L672.3 522.1L670.3 553.6L666.3 553.6Z" fill="#fff" stroke="#111" stroke-width="1"/>
<path d="M667.2 524.3L672.4 524.9" stroke="#111" stroke-width="1.2" fill="none"/>
<path d="M667.1 527.4L672.2 527.9" stroke="#111" stroke-width="1.2" fill="none"/>
<path d="M666.9 530.4L672.1 531.0" stroke="#111" stroke-width="1.2" fill="none"/>
<path d="M666.8 533.5L671.9 534.0" stroke="#111" stroke-width="1.2" fill="none"/>
<path d="M666.6 536.5L671.8 537.1" stroke="#111" stroke-width="1.2" fill="none"/>
<path d="M666.5 539.2L671.6 539.7" stroke="#111" stroke-width="1.2" fill="none"/>
<path d="M665.9 553.2L670.7 553.2L671.4 559.3L664.4 559.3Z" fill="#111" stroke="#111" stroke-width="0.8"/>
<path d="M695.7 510.2L700.3 510.2L698.3 541.4L694.3 541.4Z" fill="#fff" stroke="#111" stroke-width="1"/>
<path d="M695.2 512.5L700.4 513.1" stroke="#111" stroke-width="1.2" fill="none"/>
<path d="M695.1 515.5L700.2 516.1" stroke="#111" stroke-width="1.2" fill="none"/>
<path d="M694.9 518.5L700.1 519.1" stroke="#111" stroke-width="1.2" fill="none"/>
<path d="M694.8 521.5L699.9 522.1" stroke="#111" stroke-width="1.2" fill="none"/>
<path d="M694.6 524.5L699.8 525.1" stroke="#111" stroke-width="1.2" fill="none"/>
<path d="M694.5 527.1L699.6 527.7" stroke="#111" stroke-width="1.2" fill="none"/>
<path d="M693.9 541.0L698.7 541.0L699.4 547.0L692.4 547.0Z" fill="#111" stroke="#111" stroke-width="0.8"/>
<path d="M715.4 522.1L720.0 522.1L717.8 553.6L713.8 553.6Z" fill="#fff" stroke="#111" stroke-width="1"/>
<path d="M714.9 524.3L720.1 524.9" stroke="#111" stroke-width="1.2" fill="none"/>
<path d="M714.7 527.4L719.9 527.9" stroke="#111" stroke-width="1.2" fill="none"/>
<path d="M714.6 530.4L719.7 531.0" stroke="#111" stroke-width="1.2" fill="none"/>
<path d="M714.4 533.5L719.6 534.0" stroke="#111" stroke-width="1.2" fill="none"/>
<path d="M714.2 536.5L719.4 537.1" stroke="#111" stroke-width="1.2" fill="none"/>
<path d="M714.1 539.2L719.2 539.7" stroke="#111" stroke-width="1.2" fill="none"/>
<path d="M713.5 553.2L718.3 553.2L718.9 559.3L711.9 559.3Z" fill="#111" stroke="#111" stroke-width="0.8"/>
<path class="t" d="M667 571.4L664.2 615.4"/>
<path class="t" d="M694.8 559.2L692.6 597"/>
<path class="t" d="M715 570.6L711.8 619.6"/>
<g transform="rotate(3.2 686.9 624.6)">
<ellipse cx="686.9" cy="624.6" rx="35.4" ry="6.2" fill="#fff" stroke="#111" stroke-width="1.2"/>
<path d="M651.5 624.6V640.4A35.4 6.2 0 0 0 722.3 640.4V624.6" fill="none" stroke="#111" stroke-width="1.1"/>
<path d="M663.9 636.0A30 4 0 0 1 707.9 636.6" fill="none" stroke="#111" stroke-width="1.8"/>
<path d="M652.5 639.8A34 5 0 0 1 721.3 640.2" fill="none" stroke="#111" stroke-width="0.9"/>
<ellipse class="t" cx="656.9" cy="639.2" rx="1.8" ry="1"/>
<ellipse class="t" cx="716.3" cy="641.4" rx="1.8" ry="1"/>
</g>
<ellipse cx="683" cy="681.2" rx="43.8" ry="7.2" transform="rotate(4.2 683 681.2)" fill="#fff" stroke="#111" stroke-width="1.1"/>
<path class="l" d="M654.4 673.6L655.6 645"/>
<path class="l" d="M653.8 653.6L655.6 645L657.8 653.8"/>
<path class="l" d="M712.8 675.8L713.9 650.4"/>
<path class="l" d="M712 658.6L713.9 650.4L716 658.8"/>
<path d="M680.8 680.6H685.4L684.6 687.6H681.4Z" fill="#111"/>
<path d="M682.8 687.5L684.4 720Q686 745 687.6 775Q689.4 800 684 822Q678 840 678.8 852Q680.6 866 689.3 880Q697 890 706.7 897.3L720 910.7L740 925.3L760 940Q768 946.5 773.3 953.3Q778 959 780.4 964.5L784 974.6" fill="none" stroke="#222" stroke-width="3.3"/>
<path d="M682.8 687.5L684.4 720Q686 745 687.6 775Q689.4 800 684 822Q678 840 678.8 852Q680.6 866 689.3 880Q697 890 706.7 897.3L720 910.7L740 925.3L760 940Q768 946.5 773.3 953.3Q778 959 780.4 964.5L784 974.6" fill="none" stroke="#fff" stroke-width="1.7"/>
<!-- 12_ring.py -->
<path d="M479.4 917.7L479.6 916.4L479.8 915.2L480.3 914.0L480.8 912.8L481.5 911.5L482.4 910.4L483.4 909.2L484.5 908.0L485.8 906.8L487.2 905.7L488.7 904.6L490.4 903.5L492.2 902.4L494.1 901.3L496.2 900.3L498.4 899.2L500.8 898.2L503.2 897.2L505.8 896.3L508.5 895.3L511.4 894.4L514.3 893.5L517.4 892.6L520.6 891.7L523.9 890.9L527.4 890.1L530.9 889.3L534.5 888.6L538.3 887.9L542.1 887.2L546.1 886.5L550.1 885.9L554.3 885.2L558.5 884.7L562.8 884.1L567.2 883.6L571.7 883.1L576.3 882.7L580.9 882.2L585.6 881.8L590.4 881.5L595.2 881.1L600.2 880.8L605.1 880.6L610.2 880.3L615.2 880.1L620.4 880.0L625.6 879.8L630.8 879.8L636.0 879.7L641.3 879.7L646.7 879.7L652.0 879.7L657.4 879.8L662.8 879.9L668.2 880.0L673.6 880.2L679.1 880.4L684.5 880.6L690.0 880.9L695.4 881.2L700.9 881.5L706.3 881.9L711.7 882.3L717.1 882.7L722.5 883.1L727.9 883.6L733.2 884.2L738.5 884.7L743.7 885.3L749.0 885.9L754.2 886.5L759.3 887.2L764.4 887.9L769.4 888.6L774.4 889.4L779.3 890.2L784.2 891.0L789.0 891.8L793.7 892.7L798.3 893.5L802.9 894.4L807.4 895.4L811.8 896.3L816.1 897.3L820.4 898.3L824.5 899.3L828.6 900.3L832.5 901.4L836.4 902.5L840.1 903.6L843.8 904.7L847.3 905.8L850.8 906.9L854.1 908.1L857.3 909.3L860.4 910.4L863.4 911.6L866.2 912.8L868.9 914.1L871.5 915.3L874.0 916.5L876.4 917.8L878.6 919.0L880.7 920.3L882.6 921.5L884.5 922.8L886.2 924.1L887.7 925.4L889.1 926.6L890.4 927.9L891.5 929.2L892.5 930.5L893.4 931.7L894.1 933.0L894.7 934.3L895.1 935.6L895.4 936.8L895.6 938.1L895.6 939.3L894.5 953.3L894.5 952.1L894.4 950.9L894.1 949.6L893.7 948.4L893.1 947.2L892.4 946.0L891.5 944.7L890.5 943.5L889.4 942.3L888.2 941.0L886.8 939.8L885.2 938.5L883.5 937.3L881.7 936.1L879.8 934.9L877.7 933.6L875.5 932.4L873.2 931.2L870.7 930.0L868.1 928.8L865.4 927.6L862.6 926.5L859.7 925.3L856.6 924.1L853.4 923.0L850.1 921.9L846.7 920.7L843.2 919.6L839.6 918.6L835.9 917.5L832.0 916.4L828.1 915.4L824.1 914.4L820.0 913.4L815.8 912.4L811.5 911.4L807.1 910.5L802.6 909.6L798.1 908.7L793.5 907.8L788.8 906.9L784.0 906.1L779.2 905.3L774.3 904.5L769.4 903.8L764.4 903.1L759.4 902.4L754.3 901.7L749.1 901.0L743.9 900.4L738.7 899.8L733.5 899.3L728.2 898.7L722.8 898.2L717.5 897.8L712.1 897.3L706.8 896.9L701.4 896.5L696.0 896.2L690.6 895.9L685.2 895.6L679.8 895.3L674.4 895.1L669.0 894.9L663.6 894.8L658.2 894.6L652.9 894.5L647.6 894.5L642.3 894.4L637.0 894.4L631.8 894.5L626.6 894.5L621.5 894.6L616.4 894.8L611.3 894.9L606.3 895.1L601.4 895.4L596.5 895.6L591.7 895.9L587.0 896.2L582.3 896.6L577.7 897.0L573.1 897.4L568.7 897.8L564.3 898.3L560.0 898.8L555.8 899.3L551.7 899.9L547.7 900.5L543.8 901.1L540.0 901.8L536.2 902.4L532.6 903.1L529.1 903.9L525.7 904.6L522.4 905.4L519.3 906.2L516.2 907.0L513.3 907.9L510.4 908.8L507.7 909.7L505.2 910.6L502.7 911.5L500.4 912.5L498.2 913.5L496.1 914.5L494.2 915.5L492.4 916.5L490.7 917.6L489.2 918.7L487.8 919.7L486.5 920.8L485.4 922.0L484.4 923.1L483.6 924.2L482.9 925.4L482.3 926.6L481.9 927.7L481.6 928.9L481.5 930.1Z" fill="#fff" stroke="none"/>
<path class="l" d="M895.6 939.3L895.4 941.0L894.9 942.6L894.2 944.2L893.2 945.9L892.0 947.4L890.5 949.0L888.8 950.5L886.8 952.0L884.6 953.5L882.2 955.0L879.5 956.4L876.6 957.8L873.4 959.1L870.0 960.4L866.5 961.7L862.6 962.9L858.6 964.1L854.4 965.3L849.9 966.4L845.3 967.4L840.5 968.4L835.4 969.4L830.3 970.3L824.9 971.1L819.3 972.0L813.6 972.7L807.8 973.4L801.8 974.0L795.7 974.6L789.4 975.2L783.0 975.6L776.5 976.1L769.9 976.4L763.1 976.7L756.3 977.0L749.4 977.2L742.5 977.3L735.4 977.3L728.3 977.3L721.2 977.3L714.0 977.2L706.8 977.0L699.5 976.8L692.3 976.5L685.0 976.1L677.8 975.7L670.5 975.3L663.3 974.7L656.1 974.2L648.9 973.5L641.8 972.8L634.8 972.1L627.8 971.3L620.8 970.5L614.0 969.6L607.3 968.6L600.6 967.6L594.1 966.6L587.6 965.5L581.3 964.3L575.1 963.2L569.1 961.9L563.2 960.7L557.4 959.4L551.9 958.0L546.4 956.7L541.2 955.2L536.1 953.8L531.2 952.3L526.5 950.8L522.0 949.3L517.7 947.7L513.6 946.2L509.7 944.6L506.1 942.9L502.6 941.3L499.4 939.6L496.4 938.0L493.7 936.3L491.1 934.6L488.8 932.9L486.8 931.2L485.0 929.5L483.5 927.8L482.2 926.1L481.1 924.4L480.3 922.7L479.8 921.0L479.5 919.3L479.4 917.7L479.6 916.0L480.1 914.4L480.8 912.8L481.8 911.1L483.0 909.6L484.5 908.0L486.2 906.5L488.2 905.0L490.4 903.5L492.8 902.0L495.5 900.6L498.4 899.2L501.6 897.9L505.0 896.6L508.5 895.3L512.4 894.1L516.4 892.9L520.6 891.7L525.1 890.6L529.7 889.6L534.5 888.6L539.6 887.6L544.7 886.7L550.1 885.9L555.7 885.0L561.4 884.3L567.2 883.6L573.2 883.0L579.3 882.4L585.6 881.8L592.0 881.4L598.5 880.9L605.1 880.6L611.9 880.3L618.7 880.0L625.6 879.8L632.5 879.7L639.6 879.7L646.7 879.7L653.8 879.7L661.0 879.8L668.2 880.0L675.5 880.2L682.7 880.5L690.0 880.9L697.2 881.3L704.5 881.7L711.7 882.3L718.9 882.8L726.1 883.5L733.2 884.2L740.2 884.9L747.2 885.7L754.2 886.5L761.0 887.4L767.7 888.4L774.4 889.4L780.9 890.4L787.4 891.5L793.7 892.7L799.9 893.8L805.9 895.1L811.8 896.3L817.6 897.6L823.1 899.0L828.6 900.3L833.8 901.8L838.9 903.2L843.8 904.7L848.5 906.2L853.0 907.7L857.3 909.3L861.4 910.8L865.3 912.4L868.9 914.1L872.4 915.7L875.6 917.4L878.6 919.0L881.3 920.7L883.9 922.4L886.2 924.1L888.2 925.8L890.0 927.5L891.5 929.2L892.8 930.9L893.9 932.6L894.7 934.3L895.2 936.0L895.5 937.7L895.6 939.3Z"/>
<path class="t" d="M893.6 939.0L893.5 939.8L893.4 940.6L893.2 941.4L893.0 942.2L892.6 943.0L892.2 943.8L891.8 944.6L891.3 945.4L890.7 946.1L890.1 946.9L889.4 947.7L888.6 948.4L887.8 949.2L886.9 949.9L886.0 950.6L885.0 951.4L883.9 952.1L882.8 952.8L881.6 953.5L880.4 954.2L879.1 954.9L877.7 955.6L876.3 956.2L874.8 956.9L873.3 957.6L871.7 958.2L870.1 958.9L868.4 959.5L866.6 960.1L864.8 960.7L862.9 961.3L861.0 961.9L859.1 962.5L857.0 963.0L855.0 963.6L852.8 964.2L850.7 964.7L848.4 965.2L846.2 965.7L843.9 966.2L841.5 966.7L839.1 967.2L836.6 967.7L834.1 968.1L831.5 968.6L829.0 969.0L826.3 969.4L823.6 969.8L820.9 970.2L818.1 970.6L815.3 971.0L812.5 971.3L809.6 971.7L806.7 972.0L803.8 972.3L800.8 972.6L797.7 972.9L794.7 973.2L791.6 973.5L788.5 973.7L785.3 973.9L782.1 974.2L778.9 974.4L775.7 974.6L772.4 974.7L769.1 974.9L765.8 975.1L762.5 975.2L759.1 975.3L755.7 975.4L752.3 975.5L748.9 975.6L745.5 975.7L742.0 975.7L738.5 975.7L735.0 975.8L731.5 975.8L728.0 975.8L724.5 975.7L720.9 975.7L717.4 975.6L713.8 975.6L710.2 975.5L706.7 975.4L703.1 975.3L699.5 975.2L695.9 975.0L692.3 974.9L688.7 974.7L685.1 974.5L681.5 974.3L677.9 974.1L674.3 973.9L670.7 973.7L667.1 973.4L663.6 973.2L660.0 972.9L656.4 972.6L652.9 972.3L649.3 972.0L645.8 971.6L642.3 971.3L638.8 970.9L635.3 970.6L631.8 970.2L628.4 969.8L624.9 969.4L621.5 969.0L618.1 968.5L614.7 968.1L611.4 967.6L608.1 967.2L604.7 966.7L601.5 966.2L598.2 965.7L595.0 965.2L591.8 964.6L588.6 964.1L585.5 963.5L582.4 963.0L579.3 962.4L576.2 961.8L573.2 961.2L570.2 960.6L567.3 960.0L564.4 959.4L561.5 958.8L558.7 958.1L555.9 957.5L553.2 956.8L550.5 956.2L547.8 955.5L545.2 954.8L542.6 954.1L540.0 953.4L537.6 952.7L535.1 952.0L532.7 951.3L530.4 950.5L528.1 949.8L525.8 949.1L523.6 948.3L521.4 947.6L519.3 946.8L517.3 946.0L515.3 945.3L513.3 944.5L511.4 943.7L509.6 942.9L507.8 942.1L506.1 941.3L504.4 940.5L502.8 939.7L501.2 938.9L499.7 938.1L498.2 937.3L496.8 936.5L495.5 935.7L494.2 934.9L493.0 934.0L491.8 933.2L490.7 932.4L489.7 931.6L488.7 930.7L487.8 929.9L486.9 929.1L486.1 928.2L485.4 927.4L484.7 926.6L484.1 925.8L483.5 924.9L483.1 924.1L482.6 923.3L482.3 922.5L482.0 921.6L481.7 920.8L481.5 920.0L481.4 919.2L481.4 918.4L481.4 917.6"/>
<path class="l" d="M894.5 953.3L894.3 954.9L893.8 956.4L893.1 958.0L892.2 959.5L890.9 961.1L889.5 962.6L887.8 964.0L885.8 965.5L883.6 966.9L881.2 968.3L878.5 969.6L875.6 970.9L872.5 972.2L869.1 973.4L865.6 974.6L861.8 975.8L857.8 976.9L853.6 978.0L849.2 979.0L844.6 980.0L839.8 981.0L834.8 981.9L829.6 982.7L824.3 983.5L818.8 984.2L813.1 984.9L807.3 985.6L801.4 986.2L795.3 986.7L789.0 987.2L782.7 987.6L776.2 988.0L769.7 988.3L763.0 988.5L756.2 988.7L749.4 988.9L742.5 988.9L735.5 989.0L728.4 988.9L721.3 988.8L714.2 988.7L707.0 988.5L699.8 988.2L692.6 987.9L685.4 987.5L678.2 987.1L671.0 986.6L663.9 986.1L656.7 985.5L649.6 984.8L642.5 984.1L635.5 983.4L628.6 982.6L621.7 981.7L614.9 980.8L608.3 979.9L601.7 978.9L595.2 977.8L588.8 976.7L582.5 975.6L576.4 974.4L570.4 973.2L564.5 972.0L558.8 970.7L553.3 969.4L547.9 968.0L542.7 966.6L537.7 965.2L532.8 963.8L528.1 962.3L523.7 960.8L519.4 959.3L515.3 957.7L511.5 956.2L507.9 954.6L504.4 953.0L501.2 951.4L498.3 949.8L495.6 948.1L493.1 946.5L490.8 944.9L488.8 943.2L487.0 941.6L485.5 939.9L484.2 938.3L483.1 936.6L482.3 935.0L481.8 933.3L481.5 931.7L481.5 930.1L481.7 928.5L482.2 927.0L482.9 925.4L483.8 923.9L485.1 922.3L486.5 920.8L488.2 919.4L490.2 917.9L492.4 916.5L494.8 915.1L497.5 913.8L500.4 912.5L503.5 911.2L506.9 910.0L510.4 908.8L514.2 907.6L518.2 906.5L522.4 905.4L526.8 904.4L531.4 903.4L536.2 902.4L541.2 901.5L546.4 900.7L551.7 899.9L557.2 899.2L562.9 898.5L568.7 897.8L574.6 897.2L580.7 896.7L587.0 896.2L593.3 895.8L599.8 895.4L606.3 895.1L613.0 894.9L619.8 894.7L626.6 894.5L633.5 894.5L640.5 894.4L647.6 894.5L654.7 894.6L661.8 894.7L669.0 894.9L676.2 895.2L683.4 895.5L690.6 895.9L697.8 896.3L705.0 896.8L712.1 897.3L719.3 897.9L726.4 898.6L733.5 899.3L740.5 900.0L747.4 900.8L754.3 901.7L761.1 902.6L767.7 903.5L774.3 904.5L780.8 905.6L787.2 906.7L793.5 907.8L799.6 909.0L805.6 910.2L811.5 911.4L817.2 912.7L822.7 914.0L828.1 915.4L833.3 916.8L838.3 918.2L843.2 919.6L847.9 921.1L852.3 922.6L856.6 924.1L860.7 925.7L864.5 927.2L868.1 928.8L871.6 930.4L874.8 932.0L877.7 933.6L880.4 935.3L882.9 936.9L885.2 938.5L887.2 940.2L889.0 941.8L890.5 943.5L891.8 945.1L892.9 946.8L893.7 948.4L894.2 950.1L894.5 951.7L894.5 953.3Z"/>
<path class="l" d="M895.3 951.8L895.2 952.7L895.1 953.5L894.9 954.3L894.7 955.1L894.3 955.9L894.0 956.7L893.5 957.5L893.0 958.3L892.4 959.1L891.8 959.9L891.1 960.7L890.3 961.4L889.5 962.2L888.6 963.0L887.7 963.7L886.7 964.5L885.6 965.2L884.5 965.9L883.3 966.7L882.1 967.4L880.8 968.1L879.4 968.8L878.0 969.5L876.5 970.2L875.0 970.9L873.4 971.6L871.7 972.2L870.0 972.9L868.3 973.5L866.5 974.2L864.6 974.8L862.7 975.4L860.7 976.0L858.6 976.6L856.6 977.2L854.4 977.8L852.2 978.4L850.0 978.9L847.7 979.5L845.4 980.0L843.0 980.5L840.6 981.0L838.1 981.5L835.6 982.0L833.0 982.5L830.4 983.0L827.7 983.4L825.0 983.9L822.3 984.3L819.5 984.7L816.7 985.1L813.8 985.5L810.9 985.9L808.0 986.2L805.0 986.6L802.0 986.9L799.0 987.2L795.9 987.5L792.8 987.8L789.7 988.1L786.5 988.4L783.3 988.6L780.0 988.9L776.8 989.1L773.5 989.3L770.2 989.5L766.8 989.7L763.5 989.9L760.1 990.0L756.7 990.2L753.2 990.3L749.8 990.4L746.3 990.5L742.8 990.6L739.3 990.7L735.8 990.7L732.3 990.8L728.7 990.8L725.2 990.8L721.6 990.8L718.0 990.8L714.4 990.7L710.8 990.7L707.2 990.6L703.6 990.6L700.0 990.5L696.4 990.4L692.7 990.2L689.1 990.1L685.5 990.0L681.8 989.8L678.2 989.6L674.6 989.4L671.0 989.2L667.4 989.0L663.8 988.8L660.2 988.5L656.6 988.3L653.0 988.0L649.4 987.7L645.9 987.4L642.3 987.1L638.8 986.7L635.3 986.4L631.8 986.0L628.3 985.7L624.8 985.3L621.4 984.9L617.9 984.5L614.5 984.1L611.1 983.6L607.8 983.2L604.4 982.7L601.1 982.3L597.8 981.8L594.6 981.3L591.4 980.8L588.2 980.3L585.0 979.7L581.8 979.2L578.7 978.6L575.7 978.1L572.6 977.5L569.6 976.9L566.6 976.3L563.7 975.7L560.8 975.1L558.0 974.5L555.1 973.8L552.4 973.2L549.6 972.5L546.9 971.9L544.3 971.2L541.7 970.5L539.1 969.9L536.6 969.2L534.1 968.5L531.7 967.7L529.3 967.0L527.0 966.3L524.7 965.6L522.5 964.8L520.3 964.1L518.2 963.3L516.1 962.6L514.1 961.8L512.1 961.0L510.2 960.3L508.3 959.5L506.5 958.7L504.8 957.9L503.1 957.1L501.4 956.3L499.8 955.5L498.3 954.7L496.8 953.9L495.4 953.1L494.1 952.2L492.8 951.4L491.5 950.6L490.4 949.8L489.2 948.9L488.2 948.1L487.2 947.3L486.2 946.4L485.4 945.6L484.6 944.8L483.8 943.9L483.1 943.1L482.5 942.3L481.9 941.4L481.4 940.6L481.0 939.8L480.6 938.9L480.3 938.1L480.1 937.3L479.9 936.4L479.7 935.6L479.7 934.8L479.7 934.0" stroke-width="1.3"/>
<path class="t" d="M894.6 949.9L894.5 950.7L894.4 951.5L894.2 952.4L893.9 953.2L893.6 953.9L893.2 954.7L892.8 955.5L892.3 956.3L891.7 957.1L891.1 957.9L890.4 958.6L889.6 959.4L888.8 960.2L887.9 960.9L887.0 961.7L886.0 962.4L884.9 963.1L883.8 963.8L882.6 964.6L881.4 965.3L880.1 966.0L878.7 966.7L877.3 967.4L875.8 968.0L874.3 968.7L872.7 969.4L871.0 970.0L869.3 970.7L867.6 971.3L865.8 971.9L863.9 972.5L862.0 973.1L860.0 973.7L858.0 974.3L855.9 974.9L853.8 975.5L851.6 976.0L849.4 976.6L847.1 977.1L844.8 977.6L842.4 978.1L840.0 978.6L837.5 979.1L835.0 979.6L832.4 980.1L829.8 980.5L827.2 980.9L824.5 981.4L821.8 981.8L819.0 982.2L816.2 982.6L813.3 982.9L810.5 983.3L807.5 983.7L804.6 984.0L801.6 984.3L798.5 984.6L795.5 984.9L792.4 985.2L789.2 985.5L786.1 985.7L782.9 986.0L779.7 986.2L776.4 986.4L773.1 986.6L769.8 986.8L766.5 987.0L763.1 987.1L759.8 987.3L756.4 987.4L753.0 987.5L749.5 987.6L746.1 987.7L742.6 987.8L739.1 987.8L735.6 987.9L732.1 987.9L728.5 987.9L725.0 987.9L721.4 987.9L717.9 987.9L714.3 987.8L710.7 987.8L707.1 987.7L703.5 987.6L699.9 987.5L696.3 987.4L692.7 987.3L689.1 987.1L685.5 987.0L681.8 986.8L678.2 986.6L674.6 986.4L671.0 986.2L667.4 985.9L663.8 985.7L660.2 985.4L656.7 985.2L653.1 984.9L649.5 984.6L646.0 984.3L642.5 984.0L639.0 983.6L635.4 983.3L632.0 982.9L628.5 982.5L625.0 982.1L621.6 981.7L618.2 981.3L614.8 980.9L611.4 980.4L608.1 980.0L604.8 979.5L601.5 979.1L598.2 978.6L594.9 978.1L591.7 977.6L588.5 977.0L585.4 976.5L582.3 976.0L579.2 975.4L576.1 974.8L573.1 974.3L570.1 973.7L567.1 973.1L564.2 972.5L561.3 971.8L558.5 971.2L555.7 970.6L552.9 969.9L550.2 969.3L547.5 968.6L544.9 967.9L542.3 967.3L539.7 966.6L537.2 965.9L534.8 965.2L532.3 964.5L530.0 963.7L527.7 963.0L525.4 962.3L523.2 961.6L521.0 960.8L518.9 960.1L516.8 959.3L514.8 958.5L512.8 957.8L510.9 957.0L509.1 956.2L507.3 955.4L505.5 954.6L503.8 953.8L502.2 953.0L500.6 952.2L499.1 951.4L497.6 950.6L496.2 949.8L494.9 949.0L493.6 948.2L492.4 947.4L491.2 946.5L490.1 945.7L489.0 944.9L488.0 944.1L487.1 943.2L486.2 942.4L485.4 941.6L484.7 940.8L484.0 939.9L483.4 939.1L482.8 938.3L482.3 937.4L481.9 936.6L481.5 935.8L481.2 935.0L481.0 934.1L480.8 933.3L480.7 932.5L480.6 931.7L480.6 930.9"/>
<path class="l" d="M479.4 918.4L479.6 935"/>
<path class="l" d="M895.7 938.6L895.5 951.2"/>
</svg>
</body></html>
